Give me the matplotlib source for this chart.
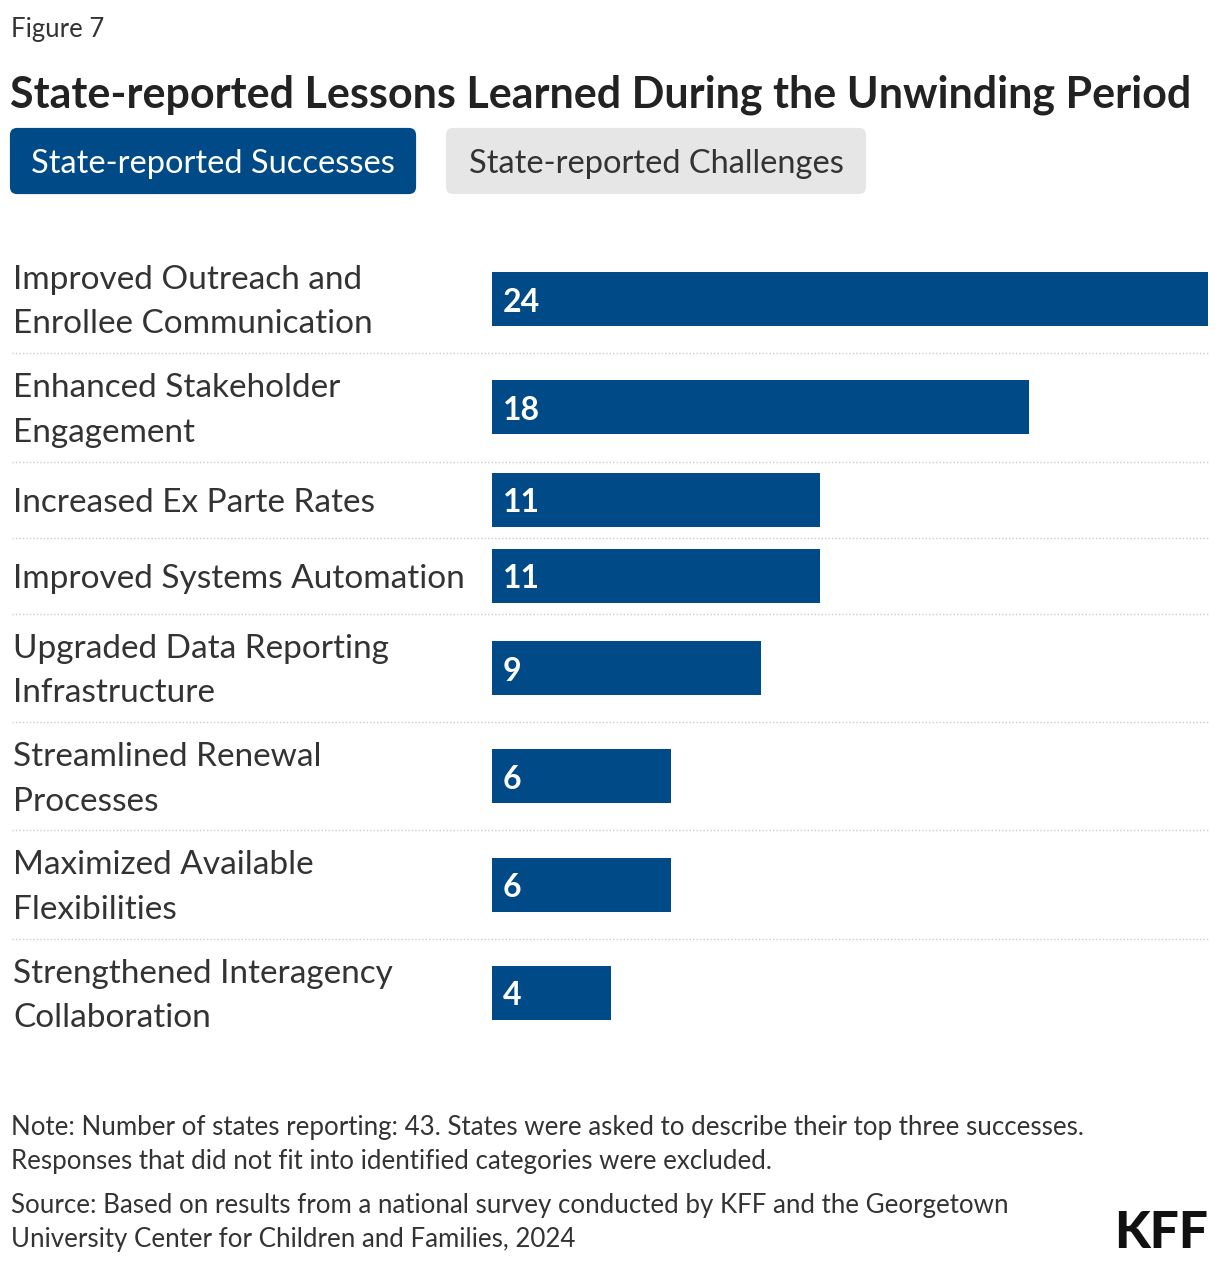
import matplotlib.pyplot as plt
import matplotlib.transforms as mtransforms
from matplotlib.patches import FancyBboxPatch

plt.rcParams['font.family'] = ['Lato', 'DejaVu Sans']

categories = [
    "Improved Outreach and\nEnrollee Communication",
    "Enhanced Stakeholder\nEngagement",
    "Increased Ex Parte Rates",
    "Improved Systems Automation",
    "Upgraded Data Reporting\nInfrastructure",
    "Streamlined Renewal\nProcesses",
    "Maximized Available\nFlexibilities",
    "Strengthened Interagency\nCollaboration",
]
values = [24, 18, 11, 11, 9, 6, 6, 4]

title = "State-reported Lessons Learned During the Unwinding Period"
tabs = ["State-reported Successes", "State-reported Challenges"]
note = ("Note: Number of states reporting: 43. States were asked to describe their top three successes.\n"
        "Responses that did not fit into identified categories were excluded.")
source = ("Source: Based on results from a national survey conducted by KFF and the Georgetown\n"
          "University Center for Children and Families, 2024")

BLUE = "#004B87"
W, H = 1220, 1264
fig = plt.figure(figsize=(W / 100, H / 100), dpi=100)


def fx(x):
    return x / W


def fy(y):
    return 1 - y / H


# header
fig.text(fx(11), fy(29), "Figure 7", fontsize=18.5, color="#333333", va="center")
fig.text(fx(10), fy(95), title, fontsize=31, fontweight="bold", color="#222222", va="center")

# tab buttons
for (x0, x1, txt, bg, fg) in [(10, 416, tabs[0], BLUE, "white"), (446, 866, tabs[1], "#e6e6e6", "#333333")]:
    box = FancyBboxPatch((fx(x0 + 6), fy(194 - 6)), fx(x1 - x0 - 12), (66 - 12) / H,
                         boxstyle="round,pad=0.005,rounding_size=0.006",
                         transform=fig.transFigure, facecolor=bg, edgecolor="none",
                         mutation_aspect=W / H)
    fig.add_artist(box)
    fig.text(fx((x0 + x1) / 2), fy(164), txt, fontsize=23.5, color=fg, ha="center", va="center")

# chart area
top, bottom = 245, 1047
ax = fig.add_axes([fx(492), fy(bottom), fx(1208 - 492), (bottom - top) / H])
ax.set_xlim(0, 24)

row_h = [108 if "\n" in c else 76 for c in categories]
bounds = [0]
for h in row_h:
    bounds.append(bounds[-1] + h)
centers = [(bounds[i] + bounds[i + 1]) / 2 for i in range(len(categories))]
ax.set_ylim(bounds[-1], 0)

ax.barh(centers, values, height=54, color=BLUE, left=0)
for c, v in zip(centers, values):
    ax.text(0.37, c + 3, str(v), color="white", fontsize=23, fontweight="bold", va="center", ha="left")

trans = mtransforms.blended_transform_factory(fig.transFigure, ax.transData)
for c, lab in zip(centers, categories):
    ax.text(fx(13), c + 3, lab, transform=trans, fontsize=24, color="#333333",
            va="center", ha="left", linespacing=1.6)
for b in bounds[1:-1]:
    ax.plot([fx(12), fx(1208)], [b, b], transform=trans, color="#cccccc",
            linestyle=(0, (1, 1.5)), linewidth=1, clip_on=False)
ax.axis("off")

# footer
fig.text(fx(11), fy(1145), note, fontsize=18.6, color="#333333", va="center", linespacing=1.45)
fig.text(fx(11), fy(1223), source, fontsize=18.6, color="#333333", va="center", linespacing=1.45)
fig.text(fx(1208), fy(1234), "KFF", fontsize=37, fontweight="black", color="#111111",
         ha="right", va="center")

fig.savefig("out.png", dpi=100)
